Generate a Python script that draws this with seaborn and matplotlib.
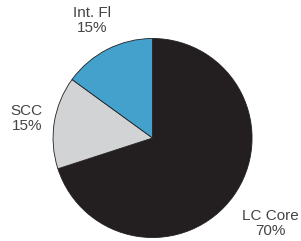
import numpy as np
import matplotlib
matplotlib.use("Agg")
import matplotlib.pyplot as plt
import seaborn as sns

categories = ["LC Core", "SCC", "Int. Fl"]
values = [70, 15, 15]
colors = ["#231f20", "#d1d3d4", "#43a1cb"]
label_dist = [1.46, 1.28, 1.33]

sns.set_theme(style="white")
plt.rcParams["font.family"] = ["Liberation Sans", "DejaVu Sans"]

fig = plt.figure(figsize=(3.01, 2.41), dpi=100)
ax = fig.add_axes([0, 0, 1, 1])
wedges, _ = ax.pie(values, colors=colors, startangle=90, counterclock=False,
                   radius=1.0, center=(0, 0),
                   wedgeprops=dict(edgecolor="#231f20", linewidth=0.6))
total = sum(values)
for w, cat, v, d in zip(wedges, categories, values, label_dist):
    ang = np.deg2rad((w.theta1 + w.theta2) / 2)
    ax.text(d * np.cos(ang), d * np.sin(ang), f"{cat}\n{round(100 * v / total)}%",
            ha="center", va="center", fontsize=11, color="#444444",
            linespacing=1.1)
ax.set_xlim(-1.533, 1.492)
ax.set_ylim(-1.035, 1.387)
ax.set_aspect("equal")
ax.axis("off")
fig.savefig("out.png", dpi=100)
